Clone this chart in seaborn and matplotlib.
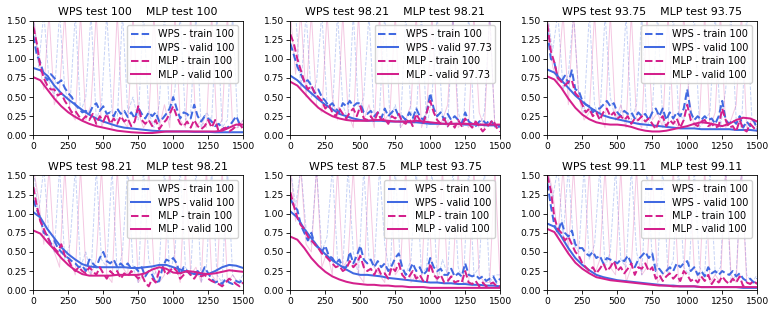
import numpy as np
import matplotlib
matplotlib.use("Agg")
import matplotlib.pyplot as plt
import seaborn as sns
from matplotlib.ticker import FormatStrFormatter

# ---------------- data ----------------
titles = ["WPS test 100    MLP test 100", "WPS test 98.21    MLP test 98.21",
          "WPS test 93.75    MLP test 93.75", "WPS test 98.21    MLP test 98.21",
          "WPS test 87.5    MLP test 93.75", "WPS test 99.11    MLP test 99.11"]
wps_train_acc = ["100", "100", "100", "100", "100", "100"]
wps_valid_acc = ["100", "97.73", "100", "100", "100", "100"]
mlp_train_acc = ["100", "100", "100", "100", "100", "100"]
mlp_valid_acc = ["100", "97.73", "100", "100", "100", "100"]

# smoothed training losses (every 25 epochs)
p1_wps_train = [1.30,1.05,0.95,0.80,0.72,0.80,0.75,0.68,0.72,0.62, 0.55,0.50,0.40,0.35,0.30,0.32,0.28,0.38,0.42,0.32,
                0.38,0.28,0.30,0.25,0.35,0.28,0.32,0.24,0.30,0.22, 0.36,0.28,0.22,0.30,0.25,0.30,0.18,0.22,0.28,0.35,
                0.50,0.35,0.22,0.30,0.28,0.22,0.40,0.25,0.18,0.25, 0.22,0.18,0.12,0.15,0.10,0.08,0.12,0.18,0.25,0.15, 0.12]
p1_mlp_train = [1.42,1.20,0.90,0.75,0.65,0.60,0.60,0.52,0.55,0.45, 0.38,0.30,0.32,0.25,0.20,0.25,0.20,0.28,0.15,0.25,
                0.18,0.28,0.15,0.22,0.15,0.25,0.18,0.22,0.12,0.18, 0.38,0.20,0.15,0.20,0.12,0.20,0.08,0.15,0.20,0.28,
                0.38,0.25,0.15,0.12,0.18,0.10,0.20,0.12,0.08,0.12, 0.20,0.10,0.20,0.05,0.08,0.10,0.05,0.08,0.12,0.15, 0.08]
p2_wps_train = [1.20,1.05,0.90,0.80,0.70,0.72,0.65,0.55,0.60,0.50, 0.45,0.38,0.42,0.35,0.30,0.42,0.38,0.45,0.38,0.42,
                0.42,0.30,0.28,0.32,0.25,0.30,0.22,0.35,0.25,0.30, 0.35,0.25,0.25,0.20,0.30,0.22,0.35,0.25,0.20,0.30,
                0.55,0.35,0.25,0.30,0.20,0.28,0.20,0.25,0.20,0.15, 0.30,0.18,0.15,0.12,0.18,0.20,0.15,0.20,0.15,0.10, 0.12]
p2_mlp_train = [1.32,1.20,1.00,0.85,0.70,0.60,0.65,0.55,0.50,0.45, 0.35,0.40,0.30,0.25,0.35,0.28,0.22,0.30,0.35,0.25,
                0.38,0.22,0.20,0.25,0.18,0.30,0.20,0.22,0.15,0.25, 0.22,0.28,0.18,0.15,0.22,0.12,0.28,0.20,0.15,0.30,
                0.45,0.30,0.20,0.15,0.22,0.12,0.18,0.10,0.20,0.12, 0.22,0.15,0.10,0.18,0.12,0.05,0.10,0.15,0.20,0.10, 0.05]
p3_wps_train = [1.35,1.00,0.95,0.75,0.70,0.78,0.68,0.85,0.60,0.58, 0.45,0.40,0.38,0.30,0.35,0.35,0.40,0.45,0.38,0.42,
                0.30,0.25,0.32,0.28,0.30,0.22,0.30,0.25,0.28,0.20, 0.30,0.35,0.25,0.35,0.20,0.30,0.22,0.30,0.25,0.35,
                0.60,0.30,0.20,0.25,0.20,0.25,0.20,0.22,0.15,0.25, 0.45,0.20,0.15,0.20,0.15,0.25,0.10,0.18,0.12,0.20, 0.08]
p3_mlp_train = [1.45,1.10,0.95,0.75,0.70,0.65,0.70,0.72,0.55,0.50, 0.40,0.30,0.35,0.25,0.30,0.20,0.30,0.35,0.25,0.30,
                0.22,0.25,0.20,0.25,0.15,0.22,0.20,0.25,0.18,0.22, 0.15,0.08,0.20,0.25,0.12,0.20,0.15,0.22,0.10,0.20,
                0.40,0.20,0.15,0.12,0.18,0.20,0.12,0.15,0.10,0.12, 0.35,0.20,0.10,0.12,0.05,0.20,0.08,0.05,0.15,0.10, 0.05]
p4_wps_train = [1.18,1.05,0.95,0.75,0.72,0.60,0.65,0.55,0.50,0.45, 0.42,0.38,0.35,0.30,0.32,0.25,0.40,0.35,0.30,0.42,
                0.50,0.38,0.35,0.40,0.30,0.35,0.30,0.35,0.28,0.30, 0.25,0.30,0.18,0.25,0.20,0.10,0.12,0.30,0.40,0.38,
                0.42,0.35,0.20,0.30,0.25,0.20,0.22,0.25,0.20,0.30, 0.22,0.15,0.10,0.12,0.08,0.15,0.10,0.08,0.12,0.10, 0.15]
p4_mlp_train = [1.35,1.10,0.90,0.80,0.70,0.60,0.55,0.50,0.60,0.45, 0.40,0.30,0.25,0.30,0.25,0.22,0.30,0.25,0.20,0.30,
                0.22,0.15,0.25,0.20,0.25,0.15,0.22,0.18,0.25,0.20, 0.15,0.20,0.10,0.05,0.15,0.10,0.25,0.30,0.20,0.25,
                0.30,0.25,0.15,0.20,0.25,0.20,0.15,0.22,0.18,0.20, 0.15,0.12,0.10,0.08,0.05,0.10,0.15,0.12,0.08,0.05, 0.10]
p5_wps_train = [1.20,1.10,1.05,0.85,0.75,0.65,0.75,0.60,0.55,0.50, 0.58,0.45,0.42,0.35,0.40,0.30,0.30,0.50,0.35,0.45,
                0.58,0.40,0.35,0.40,0.30,0.38,0.30,0.35,0.25,0.32, 0.42,0.48,0.30,0.20,0.25,0.35,0.25,0.30,0.20,0.25,
                0.42,0.30,0.25,0.28,0.20,0.20,0.28,0.18,0.22,0.18, 0.35,0.20,0.18,0.20,0.15,0.18,0.12,0.15,0.18,0.10, 0.15]
p5_mlp_train = [1.28,1.10,0.95,0.85,0.80,0.70,0.65,0.60,0.55,0.48, 0.45,0.40,0.35,0.30,0.32,0.25,0.28,0.38,0.30,0.35,
                0.45,0.30,0.25,0.28,0.20,0.30,0.20,0.22,0.15,0.30, 0.25,0.35,0.20,0.15,0.18,0.25,0.15,0.20,0.12,0.10,
                0.35,0.20,0.15,0.20,0.10,0.12,0.18,0.10,0.12,0.10, 0.25,0.10,0.08,0.12,0.05,0.10,0.05,0.08,0.10,0.05, 0.05]
p6_wps_train = [1.40,1.10,0.85,0.75,0.90,0.75,0.70,0.78,0.60,0.55, 0.55,0.48,0.45,0.50,0.42,0.45,0.35,0.42,0.40,0.38,
                0.35,0.40,0.38,0.45,0.35,0.30,0.40,0.45,0.50,0.42, 0.48,0.25,0.28,0.22,0.25,0.30,0.25,0.35,0.30,0.35,
                0.38,0.25,0.30,0.20,0.25,0.18,0.30,0.22,0.25,0.20, 0.25,0.22,0.20,0.25,0.18,0.22,0.15,0.12,0.15,0.10, 0.15]
p6_mlp_train = [1.50,1.30,0.95,0.80,0.75,0.65,0.70,0.60,0.50,0.45, 0.35,0.30,0.25,0.30,0.22,0.28,0.35,0.25,0.30,0.38,
                0.25,0.30,0.22,0.28,0.35,0.20,0.30,0.28,0.35,0.25, 0.30,0.15,0.20,0.12,0.18,0.22,0.15,0.20,0.12,0.25,
                0.20,0.12,0.15,0.10,0.18,0.12,0.20,0.08,0.15,0.10, 0.18,0.12,0.08,0.15,0.10,0.18,0.05,0.10,0.08,0.12, 0.08]

# smoothed validation losses (every 50 epochs)
p1_wps_valid = [0.88,0.85,0.78,0.65,0.55,0.47,0.40,0.33,0.27,0.22, 0.18,0.15,0.12,0.10,0.09,0.08,0.07,0.06,0.055,0.05,
                0.05,0.05,0.05,0.045,0.045,0.045,0.04,0.04,0.04,0.04,0.04]
p1_mlp_valid = [0.76,0.72,0.60,0.48,0.38,0.30,0.24,0.19,0.15,0.12, 0.10,0.08,0.06,0.05,0.04,0.035,0.03,0.03,0.04,0.05,
                0.05,0.05,0.05,0.05,0.05,0.05,0.05,0.06,0.10,0.14,0.14]
p2_wps_valid = [0.78,0.72,0.63,0.55,0.47,0.40,0.34,0.28,0.25,0.22, 0.20,0.19,0.19,0.19,0.18,0.18,0.18,0.17,0.17,0.16,
                0.15,0.15,0.15,0.15,0.15,0.14,0.14,0.14,0.13,0.13,0.13]
p2_mlp_valid = [0.70,0.65,0.55,0.45,0.36,0.30,0.25,0.22,0.20,0.19, 0.19,0.19,0.20,0.20,0.19,0.18,0.18,0.18,0.19,0.18,
                0.17,0.16,0.15,0.15,0.15,0.15,0.15,0.14,0.14,0.14,0.14]
p3_wps_valid = [0.86,0.82,0.72,0.62,0.52,0.44,0.37,0.31,0.26,0.23, 0.21,0.19,0.17,0.15,0.14,0.13,0.12,0.11,0.10,0.09,
                0.09,0.09,0.08,0.08,0.08,0.08,0.08,0.07,0.07,0.07,0.06]
p3_mlp_valid = [0.77,0.73,0.62,0.48,0.36,0.27,0.21,0.17,0.15,0.14, 0.14,0.13,0.11,0.08,0.06,0.05,0.05,0.06,0.08,0.10,
                0.12,0.15,0.17,0.16,0.14,0.12,0.15,0.20,0.23,0.22,0.18]
p4_wps_valid = [1.02,0.95,0.80,0.68,0.56,0.47,0.40,0.34,0.31,0.30, 0.30,0.30,0.30,0.30,0.29,0.29,0.30,0.31,0.33,0.33,
                0.30,0.27,0.24,0.21,0.21,0.21,0.25,0.30,0.33,0.32,0.29]
p4_mlp_valid = [0.78,0.74,0.63,0.53,0.42,0.33,0.26,0.21,0.19,0.19, 0.19,0.19,0.20,0.20,0.20,0.20,0.22,0.27,0.30,0.28,
                0.23,0.22,0.25,0.24,0.22,0.21,0.22,0.24,0.26,0.25,0.24]
p5_wps_valid = [1.03,0.95,0.80,0.68,0.56,0.47,0.39,0.33,0.27,0.22, 0.20,0.20,0.19,0.18,0.16,0.15,0.14,0.13,0.12,0.11,
                0.10,0.10,0.09,0.09,0.08,0.08,0.07,0.07,0.06,0.06,0.05]
p5_mlp_valid = [0.70,0.66,0.55,0.42,0.32,0.24,0.18,0.14,0.11,0.09, 0.08,0.07,0.07,0.06,0.06,0.05,0.05,0.04,0.04,0.04,
                0.03,0.03,0.03,0.03,0.03,0.03,0.03,0.03,0.03,0.03,0.03]
p6_wps_valid = [0.87,0.83,0.70,0.55,0.42,0.33,0.26,0.20,0.17,0.15, 0.13,0.12,0.11,0.10,0.09,0.08,0.07,0.06,0.06,0.05,
                0.05,0.05,0.04,0.04,0.04,0.04,0.04,0.04,0.03,0.03,0.03]
p6_mlp_valid = [0.80,0.76,0.62,0.48,0.36,0.28,0.22,0.17,0.15,0.13, 0.12,0.11,0.10,0.09,0.08,0.07,0.06,0.06,0.05,0.05,
                0.05,0.05,0.04,0.04,0.04,0.04,0.04,0.04,0.04,0.04,0.04]

# raw (unsmoothed) training losses, faint background
p1_wps_raw = [1.6,0.9,1.6,0.7,0.5,1.6,0.6,0.4,1.6,0.3, 0.5,1.6,0.2,0.4,1.6,0.3,0.2,1.6,0.3,0.5,
              0.2,1.6,0.3,0.1,0.4,1.6,0.2,0.6,1.6,0.2, 0.3,1.6,0.1,0.3,0.2,1.6,0.1,0.2,1.6,0.1, 0.2]
p1_mlp_raw = [1.6,1.0,0.6,1.6,0.4,0.6,1.6,0.3,0.2,1.6, 0.2,0.4,1.6,0.1,0.3,0.1,1.6,0.2,0.1,1.6,
              0.3,0.1,0.2,1.6,0.1,0.4,0.1,1.6,0.2,0.1, 1.6,0.1,0.2,0.1,1.6,0.1,0.2,1.6,0.1,0.1, 0.2]
p2_wps_raw = [1.6,1.6,0.6,1.6,0.5,0.7,1.6,0.4,0.3,1.6, 0.4,0.2,1.6,0.3,0.5,1.6,0.2,0.3,1.6,0.2,
              0.4,0.1,1.6,0.3,0.2,1.6,0.1,0.5,1.6,0.2, 0.1,1.6,0.3,0.1,1.6,0.2,0.1,0.3,1.6,0.1, 0.1]
p2_mlp_raw = [1.6,0.8,1.6,0.5,1.6,0.4,0.3,1.6,0.5,0.2, 1.6,0.3,0.1,1.6,0.2,0.4,0.1,1.6,0.2,0.3,
              1.6,0.1,0.2,0.4,1.6,0.1,0.3,1.6,0.1,0.2, 0.4,1.6,0.1,0.2,0.1,1.6,0.3,0.1,1.6,0.1, 0.1]
p3_wps_raw = [1.6,1.1,1.6,0.6,0.8,1.6,0.5,0.3,1.6,0.4, 0.2,1.6,0.5,0.2,0.3,1.6,0.2,0.4,1.6,0.1,
              0.3,1.6,0.2,0.1,1.6,0.3,0.2,0.7,1.6,0.1, 0.2,0.3,1.6,0.1,0.6,1.6,0.2,0.1,1.6,0.2, 0.1]
p3_mlp_raw = [1.6,0.9,0.7,1.6,0.4,1.6,0.5,0.2,0.3,1.6, 0.3,0.1,1.6,0.2,0.4,0.1,1.6,0.2,0.1,1.6,
              0.2,0.3,0.1,1.6,0.2,0.1,1.6,0.5,0.1,0.2, 1.6,0.1,0.3,1.6,0.1,0.2,0.4,1.6,0.1,0.2, 0.1]
p4_wps_raw = [1.6,1.0,1.6,0.7,0.5,1.6,0.4,0.6,1.6,0.3, 0.5,0.2,1.6,0.4,0.3,1.6,0.2,0.5,1.6,0.3,
              0.1,1.6,0.4,0.2,0.3,1.6,0.2,0.5,1.6,0.3, 0.2,1.6,0.1,0.3,1.6,0.2,0.1,1.6,0.2,0.1, 0.2]
p4_mlp_raw = [1.6,1.2,0.6,1.6,0.5,0.3,1.6,0.4,0.2,1.6, 0.3,0.2,0.4,1.6,0.2,0.1,1.6,0.3,0.2,1.6,
              0.1,0.2,1.6,0.3,0.1,0.2,1.6,0.4,0.1,1.6, 0.2,0.3,0.1,1.6,0.2,0.1,1.6,0.1,0.2,0.1, 0.1]
p5_wps_raw = [1.6,1.1,1.6,0.8,0.6,1.6,0.5,0.7,1.6,0.4, 0.3,1.6,0.5,0.2,1.6,0.4,0.3,1.6,0.6,0.2,
              1.6,0.3,0.2,0.4,1.6,0.2,0.3,1.6,0.1,0.4, 0.2,1.6,0.3,0.1,1.6,0.2,0.3,1.6,0.1,0.2, 0.2]
p5_mlp_raw = [1.6,0.9,1.6,0.6,0.5,1.6,0.3,0.5,0.2,1.6, 0.3,0.4,1.6,0.2,0.1,1.6,0.3,0.2,0.1,1.6,
              0.2,0.3,1.6,0.1,0.2,0.1,1.6,0.3,0.1,1.6, 0.1,0.2,1.6,0.1,0.1,1.6,0.2,0.1,0.1,1.6, 0.1]
p6_wps_raw = [1.6,1.2,1.6,0.7,1.6,0.6,0.5,1.6,0.4,0.6, 1.6,0.3,0.5,1.6,0.4,0.3,1.6,0.5,0.2,1.6,
              0.4,0.3,1.6,0.2,0.4,1.6,0.3,0.2,1.6,0.3, 0.2,1.6,0.2,0.3,1.6,0.1,0.2,1.6,0.2,0.1, 0.2]
p6_mlp_raw = [1.6,1.3,0.7,1.6,0.5,1.6,0.4,0.3,1.6,0.2, 0.4,1.6,0.3,0.2,1.6,0.1,0.3,1.6,0.2,0.3,
              1.6,0.1,0.2,0.3,1.6,0.1,0.2,1.6,0.3,0.1, 1.6,0.1,0.2,0.1,1.6,0.2,0.1,1.6,0.1,0.1, 0.1]

wps_train = [p1_wps_train, p2_wps_train, p3_wps_train, p4_wps_train, p5_wps_train, p6_wps_train]
mlp_train = [p1_mlp_train, p2_mlp_train, p3_mlp_train, p4_mlp_train, p5_mlp_train, p6_mlp_train]
wps_valid = [p1_wps_valid, p2_wps_valid, p3_wps_valid, p4_wps_valid, p5_wps_valid, p6_wps_valid]
mlp_valid = [p1_mlp_valid, p2_mlp_valid, p3_mlp_valid, p4_mlp_valid, p5_mlp_valid, p6_mlp_valid]
wps_raw = [p1_wps_raw, p2_wps_raw, p3_wps_raw, p4_wps_raw, p5_wps_raw, p6_wps_raw]
mlp_raw = [p1_mlp_raw, p2_mlp_raw, p3_mlp_raw, p4_mlp_raw, p5_mlp_raw, p6_mlp_raw]

x_ticks = [0, 250, 500, 750, 1000, 1250, 1500]
y_ticks = [0.0, 0.25, 0.5, 0.75, 1.0, 1.25, 1.5]

# ---------------- style ----------------
WPS_C = "#4169E1"
MLP_C = "#D4208C"


def epochs(vals):
    return np.linspace(0, 1500, len(vals))


fig, axes = plt.subplots(2, 3, figsize=(7.75, 3.12), dpi=100)
fig.subplots_adjust(left=0.043, right=0.977, top=0.934, bottom=0.07, wspace=0.225, hspace=0.35)

for i, ax in enumerate(axes.flat):
    # faint raw curves
    sns.lineplot(x=epochs(wps_raw[i]), y=wps_raw[i], ax=ax, color=WPS_C, alpha=0.3,
                 lw=0.7, ls="--", legend=False)
    sns.lineplot(x=epochs(mlp_raw[i]), y=mlp_raw[i], ax=ax, color=MLP_C, alpha=0.25,
                 lw=0.7, legend=False)
    # smoothed curves
    sns.lineplot(x=epochs(wps_train[i]), y=wps_train[i], ax=ax, color=WPS_C, lw=1.45,
                 ls="--", label=f"WPS - train {wps_train_acc[i]}")
    sns.lineplot(x=epochs(wps_valid[i]), y=wps_valid[i], ax=ax, color=WPS_C, lw=1.45,
                 label=f"WPS - valid {wps_valid_acc[i]}")
    sns.lineplot(x=epochs(mlp_train[i]), y=mlp_train[i], ax=ax, color=MLP_C, lw=1.45,
                 ls="--", label=f"MLP - train {mlp_train_acc[i]}")
    sns.lineplot(x=epochs(mlp_valid[i]), y=mlp_valid[i], ax=ax, color=MLP_C, lw=1.45,
                 label=f"MLP - valid {mlp_valid_acc[i]}")

    ax.set_xlim(0, 1500)
    ax.set_ylim(0, 1.5)
    ax.set_xticks(x_ticks)
    ax.set_yticks(y_ticks)
    ax.yaxis.set_major_formatter(FormatStrFormatter("%.2f"))
    ax.tick_params(labelsize=6.6, length=2.6, width=0.6, pad=2)
    for s in ax.spines.values():
        s.set_linewidth(0.6)
    ax.set_title(titles[i], fontsize=7.9, pad=4)
    ax.legend(loc="upper right", fontsize=7, handlelength=2.0, borderpad=0.4,
              labelspacing=0.35, borderaxespad=0.5, framealpha=0.85)

fig.savefig("out.png", dpi=100)
